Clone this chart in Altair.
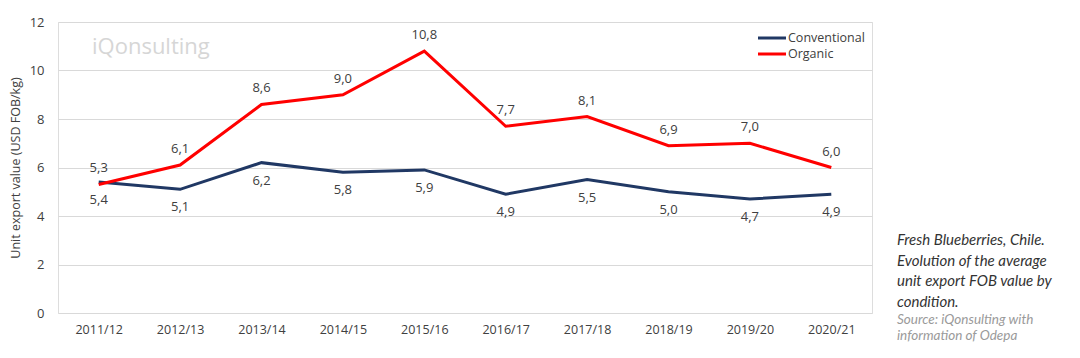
import altair as alt
import pandas as pd

seasons = ["2011/12", "2012/13", "2013/14", "2014/15", "2015/16",
           "2016/17", "2017/18", "2018/19", "2019/20", "2020/21"]
conventional = [5.4, 5.1, 6.2, 5.8, 5.9, 4.9, 5.5, 5.0, 4.7, 4.9]
organic = [5.3, 6.1, 8.6, 9.0, 10.8, 7.7, 8.1, 6.9, 7.0, 6.0]
series_names = ["Conventional", "Organic"]
series_colors = ["#203864", "#ff0000"]

rows = []
for s, c, o in zip(seasons, conventional, organic):
    rows.append({"season": s, "series": "Conventional", "value": c,
                 "label": f"{c:.1f}".replace(".", ",")})
    rows.append({"season": s, "series": "Organic", "value": o,
                 "label": f"{o:.1f}".replace(".", ",")})
df = pd.DataFrame(rows)

FONT = "Open Sans"
TXT = "#404040"

x_enc = alt.X("season:N", sort=seasons, title=None,
              scale=alt.Scale(type="point", padding=0.5),
              axis=alt.Axis(labelFont=FONT, labelFontSize=12.5, labelColor=TXT,
                            labelPadding=10, domain=False, ticks=False, grid=False,
                            labelAngle=0))
y_enc = alt.Y("value:Q", title="Unit export value (USD FOB/kg)",
              scale=alt.Scale(domain=[0, 12], nice=False),
              axis=alt.Axis(values=[0, 2, 4, 6, 8, 10, 12], labelFont=FONT,
                            labelFontSize=13, labelColor=TXT, labelPadding=14,
                            domain=False, ticks=False, gridColor="#d9d9d9",
                            titleFont=FONT, titleFontSize=12.5, titleColor=TXT,
                            titleFontWeight="normal", titlePadding=7))

base = alt.Chart(df)
color_scale = alt.Scale(domain=series_names, range=series_colors)

lines = base.mark_line(strokeWidth=3).encode(
    x=x_enc, y=y_enc,
    color=alt.Color("series:N", scale=color_scale, legend=None),
)

lab_org = base.transform_filter(alt.datum.series == "Organic").mark_text(
    dy=-16, font=FONT, fontSize=13, color=TXT).encode(
    x=alt.X("season:N", sort=seasons), y="value:Q", text="label:N")
lab_con = base.transform_filter(alt.datum.series == "Conventional").mark_text(
    dy=18, font=FONT, fontSize=13, color=TXT).encode(
    x=alt.X("season:N", sort=seasons), y="value:Q", text="label:N")

# manual legend (compact rows like the original)
legend_layers = []
for i, (name, col) in enumerate(zip(series_names, series_colors)):
    ldf = pd.DataFrame({"series": [name]})
    yy = 16 + i * 16
    legend_layers.append(alt.Chart(ldf).mark_rule(strokeWidth=3, color=col).encode(
        x=alt.value(700), x2=alt.value(728), y=alt.value(yy)))
    legend_layers.append(alt.Chart(ldf).mark_text(
        align="left", baseline="middle", font=FONT, fontSize=12.5, color=TXT).encode(
        x=alt.value(730), y=alt.value(yy), text="series:N"))

watermark = alt.Chart(pd.DataFrame({"t": ["iQonsulting"]})).mark_text(
    align="left", baseline="middle", font=FONT, fontSize=22, color="#d6d6d6").encode(
    x=alt.value(34), y=alt.value(25), text="t:N")

caption = alt.Chart(pd.DataFrame({"t": [["Fresh Blueberries, Chile.",
                                          "Evolution of the average",
                                          "unit export FOB value by",
                                          "condition."]]})).mark_text(
    align="left", baseline="middle", font="Lato", fontStyle="italic",
    fontSize=15, color="#333333", lineHeight=20.5).encode(
    x=alt.value(839), y=alt.value(218), text="t")

source = alt.Chart(pd.DataFrame({"t": [["Source: iQonsulting with",
                                         "information of Odepa"]]})).mark_text(
    align="left", baseline="middle", font="Lato", fontStyle="italic",
    fontSize=13.5, color="#9a9a9a", lineHeight=16).encode(
    x=alt.value(839), y=alt.value(298), text="t")

chart = alt.layer(lines, lab_org, lab_con, *legend_layers, watermark, caption,
                  source).properties(
    width=814, height=291,
    autosize=alt.AutoSizeParams(type="none"),
    padding={"left": 50, "top": 14, "right": 200, "bottom": 36},
).configure_view(stroke=None).configure(background="white")

chart.save("out.html", embed_options={"renderer": "svg", "actions": False})
